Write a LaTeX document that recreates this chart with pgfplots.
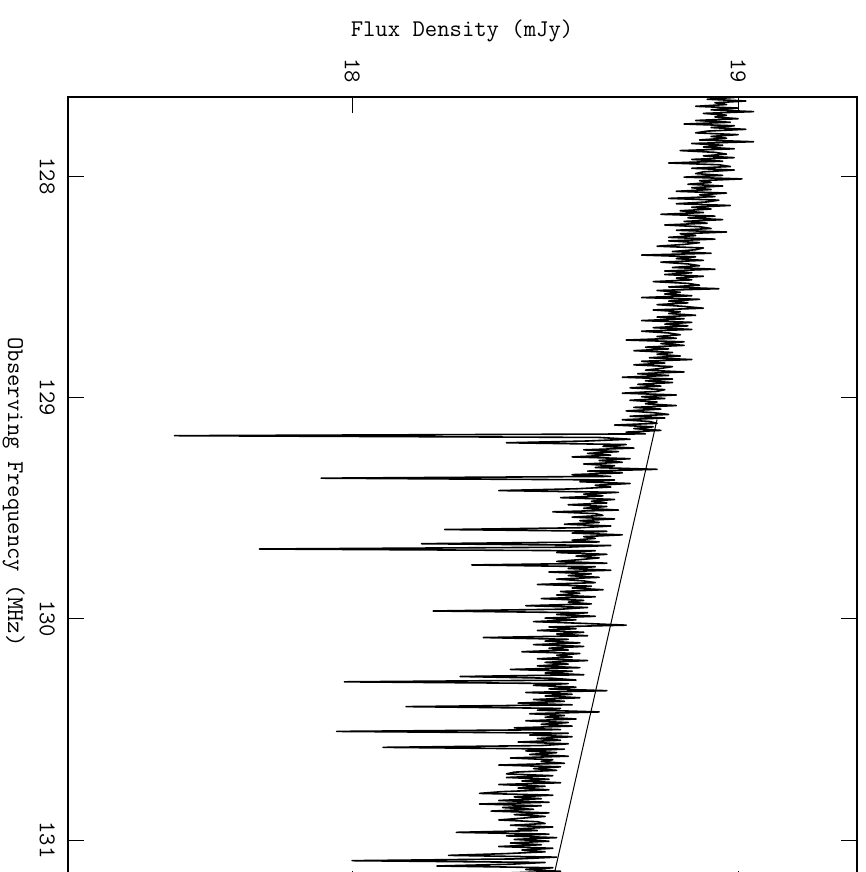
\documentclass[border=0pt]{standalone}
\usepackage{fontspec}
\usepackage{pgfplots}
\pgfplotsset{compat=1.18}
\usepackage{pgfplotstable}

% flux density (mJy) per channel; channels 0.008 MHz apart from 127.645 MHz
\pgfplotstableread{
flux
18.99
18.92
19.02
18.94
18.97
18.89
19.00
18.93
19.04
18.91
18.97
18.94
19.00
18.89
18.98
18.86
18.99
18.93
19.02
18.92
18.89
19.00
18.93
18.97
18.90
19.04
18.88
18.96
18.91
18.99
18.85
18.94
18.97
18.91
18.99
18.88
18.96
18.82
18.95
18.98
18.88
18.99
18.91
18.89
18.96
18.86
19.01
18.90
18.93
18.87
18.96
18.88
18.93
18.84
18.97
18.90
18.94
18.82
18.95
18.92
18.84
18.98
18.88
18.93
18.85
18.91
18.80
18.94
18.87
18.96
18.86
18.92
18.81
18.90
18.93
18.84
18.97
18.85
18.89
18.82
18.94
18.82
18.90
18.86
18.79
18.91
18.89
18.83
18.93
18.75
18.89
18.84
18.91
18.80
18.87
18.90
18.83
18.94
18.81
18.88
18.81
18.91
18.84
18.88
18.78
18.87
18.90
18.82
18.95
18.79
18.85
18.81
18.88
18.75
18.90
18.82
18.87
18.79
18.86
18.91
18.78
18.85
18.82
18.89
18.79
18.86
18.75
18.88
18.81
18.87
18.78
18.88
18.75
18.82
18.85
18.79
18.84
18.71
18.86
18.80
18.86
18.76
18.82
18.73
18.83
18.79
18.85
18.77
18.88
18.75
18.81
18.73
18.83
18.80
18.76
18.86
18.74
18.82
18.70
18.83
18.76
18.83
18.74
18.80
18.72
18.81
18.79
18.70
18.84
18.75
18.81
18.72
18.79
18.76
18.84
18.73
18.80
18.71
18.78
18.82
18.72
18.81
18.70
18.77
18.79
18.68
18.78
18.73
18.80
18.71
18.76
17.54
18.64
18.72
18.61
18.40
18.71
18.65
18.73
18.60
18.69
18.61
18.67
18.57
18.72
18.64
18.70
18.60
18.68
18.63
18.79
18.61
18.70
18.57
18.67
17.92
18.68
18.59
18.72
18.63
18.67
18.58
18.38
18.69
18.60
18.65
18.54
18.68
18.62
18.66
18.56
18.66
18.60
18.69
18.52
18.63
18.65
18.57
18.68
18.59
18.64
18.55
18.67
18.59
18.24
18.66
18.57
18.70
18.60
18.63
18.57
18.64
18.18
18.67
18.55
17.76
18.63
18.53
18.66
18.58
18.64
18.59
18.53
18.66
18.31
18.63
18.56
18.67
18.51
18.62
18.56
18.64
18.53
18.60
18.63
18.48
18.62
18.57
18.65
18.54
18.59
18.53
18.63
18.49
18.60
18.56
18.62
18.45
18.61
18.54
18.21
18.61
18.53
18.63
18.50
18.58
18.47
18.60
18.71
18.51
18.58
18.48
18.60
18.53
18.61
18.34
18.56
18.50
18.59
18.47
18.60
18.51
18.56
18.44
18.59
18.53
18.57
18.48
18.61
18.50
18.56
18.48
18.59
18.41
18.57
18.50
18.60
18.28
18.52
18.58
17.98
18.56
18.47
18.58
18.51
18.66
18.45
18.57
18.50
18.59
18.47
18.55
18.43
18.57
18.14
18.54
18.48
18.64
18.46
18.55
18.50
18.58
18.45
18.56
18.49
18.57
18.42
18.54
17.96
18.56
18.46
18.57
18.48
18.54
18.43
18.56
18.49
18.08
18.55
18.45
18.53
18.46
18.56
18.41
18.52
18.49
18.55
18.38
18.54
18.47
18.53
18.42
18.40
18.52
18.40
18.51
18.44
18.54
18.38
18.50
18.43
18.51
18.39
18.33
18.52
18.42
18.49
18.38
18.51
18.33
18.49
18.39
18.47
18.36
18.51
18.42
18.50
18.44
18.38
18.48
18.50
18.41
18.52
18.43
18.48
18.27
18.51
18.40
18.53
18.42
18.51
18.41
18.49
18.38
18.52
18.44
18.50
18.40
18.25
18.53
18.43
18.00
18.50
18.41
18.22
18.52
18.45
18.54
18.39
18.49
18.45
18.53
18.42
18.50
18.39
18.52
18.47
}\spectrum

\begin{document}
\begin{tikzpicture}
\useasboundingbox (0,0) rectangle (865pt,-872pt);
\begin{axis}[
  name=ax,
  at={(68pt,-97pt)}, anchor=north west,
  scale only axis, width=789pt, height=790pt,
  xmin=17.264, xmax=19.308,
  ymin=127.643, ymax=131.212, y dir=reverse,
  xtick={18,19}, ytick={128,129,130,131},
  minor tick num=0,
  tick align=inside, major tick length=16pt,
  xticklabel pos=upper, yticklabel pos=left,
  /pgf/number format/assume math mode=true,
  /pgf/number format/1000 sep={},
  xticklabel style={rotate=-90, anchor=east, inner sep=0pt, font=\ttfamily\fontsize{24}{28}\selectfont},
  yticklabel style={rotate=-90, anchor=north, inner sep=0pt, font=\ttfamily\fontsize{24}{28}\selectfont},
  xticklabel shift=14pt, yticklabel shift=13pt,
  axis line style={line width=1.3pt, black},
  every tick/.style={line width=0.8pt, black},
]
\addplot[black, line width=1.6pt, no markers, sharp plot, line join=round]
  table[x index=0, y index=0, y expr=127.645+0.008*\coordindex] {\spectrum};
\addplot[black, line width=1pt, no markers, sharp plot]
  coordinates {(18.79,129.10) (18.516,131.212)};
\end{axis}
\node[font=\ttfamily\fontsize{24}{28}\selectfont, anchor=base, inner sep=0pt] at (462pt,-37pt) {Flux Density (mJy)};
\node[font=\ttfamily\fontsize{24}{28}\selectfont, rotate=-90, anchor=north, inner sep=0pt] at (25pt,-492pt) {Observing Frequency (MHz)};
\end{tikzpicture}
\end{document}
